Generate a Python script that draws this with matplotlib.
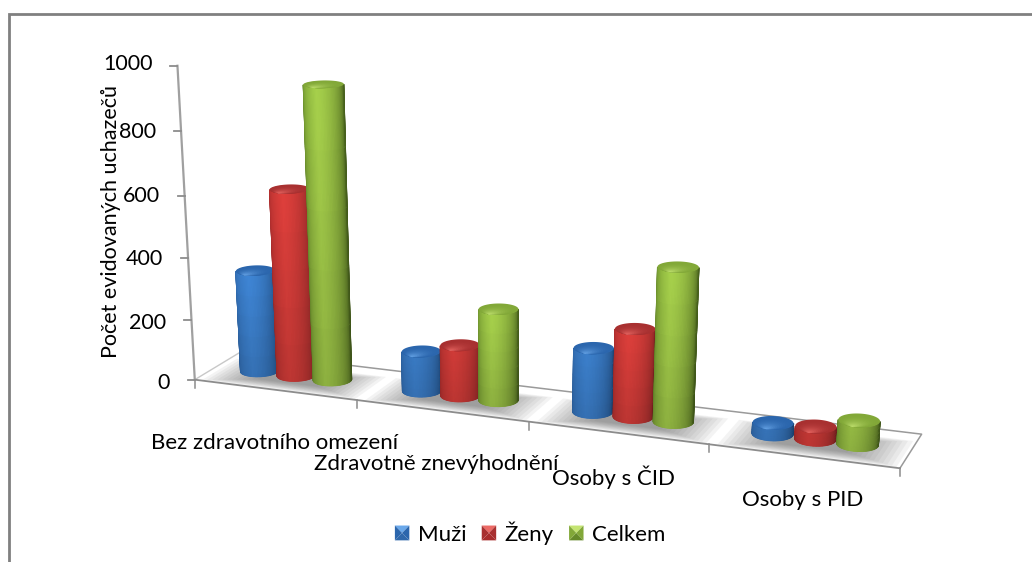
import numpy as np
import matplotlib
matplotlib.use('Agg')
from matplotlib import pyplot as plt
from matplotlib.legend_handler import HandlerBase
from matplotlib.patches import Polygon

plt.rcParams['font.family'] = ['Lato', 'DejaVu Sans']

categories = ['Bez zdravotního omezení', 'Zdravotně znevýhodnění', 'Osoby s ČID', 'Osoby s PID']
muzi = [335, 130, 205, 35]
zeny = [610, 165, 280, 40]
celkem = [945, 295, 485, 75]
series_labels = ['Muži', 'Ženy', 'Celkem']
y_ticks = [0, 200, 400, 600, 800, 1000]
tick_nudge = [3, 3, 0, 0, 0, -2]
y_title = 'Počet evidovaných uchazečů'

# left, peak, right, top, rim
palette = [
    ('#2f68ab', '#3f86d6', '#1f4a7c', '#2b66ad', '#6aa8ea'),
    ('#a82c2c', '#e0403c', '#7c2222', '#a83030', '#ec6a66'),
    ('#668a2a', '#a8d24c', '#465f1c', '#82a838', '#c4e472'),
]

# calibration of the 3d view: (category, depth, value) -> pixel
view_from = [(0, 0, 0), (1, 0, 0), (2, 0, 0), (3, 0, 0), (4, 0, 0), (0, 1, 0), (4, 1, 0),
             (0, 0, 400), (0, 0, 1000), (4, 0, 1000)]
view_to = [(197, 380), (356, 400), (525, 423), (707, 444), (904, 467), (240, 355), (922, 431),
           (190, 258), (177, 62), (925, 127)]


def fit_view(src, dst):
    rows = []
    for (u, d, v), (x, y) in zip(src, dst):
        v = v / 1000
        x = x / 1000
        y = y / 1000
        rows.append([u, d, v, 1, 0, 0, 0, 0, -x * u, -x * d, -x * v, -x])
        rows.append([0, 0, 0, 0, u, d, v, 1, -y * u, -y * d, -y * v, -y])
    return np.linalg.svd(np.array(rows))[2][-1].reshape(3, 4)


P = fit_view(view_from, view_to)


def project(u, d, v):
    u, d, v = np.broadcast_arrays(u, d, np.asarray(v, dtype=float))
    w = P[2, 0] * u + P[2, 1] * d + P[2, 2] * v / 1000 + P[2, 3]
    x = (P[0, 0] * u + P[0, 1] * d + P[0, 2] * v / 1000 + P[0, 3]) / w * 1000
    y = (P[1, 0] * u + P[1, 1] * d + P[1, 2] * v / 1000 + P[1, 3]) / w * 1000
    return x, y


def rgb(c):
    return np.array(matplotlib.colors.to_rgb(c))


def body_color(s, left, peak, right):
    if s < 0.38:
        return left + (peak - left) * (s / 0.38) ** 0.7
    return peak + (right - peak) * ((s - 0.38) / 0.62) ** 1.6


def cylinder(ax, u0, d0, val, cols, z):
    r_u, r_d = 0.107, 0.2
    left, peak, right, top, rim = [rgb(c) for c in cols]
    t = np.linspace(0, 2 * np.pi, 90, endpoint=False)
    bx, by = project(u0 + r_u * np.cos(t), d0 + r_d * np.sin(t), 0)
    i_l, i_r = np.argmin(bx), np.argmax(bx)
    n = (i_r - i_l) % len(t)
    ts = t[(i_l + np.arange(n + 1)) % len(t)]
    levels = np.linspace(0, val, 6)
    uu = np.tile(u0 + r_u * np.cos(ts), (len(levels), 1))
    dd = np.tile(d0 + r_d * np.sin(ts), (len(levels), 1))
    vv = np.tile(levels[:, None], (1, len(ts)))
    X, Y = project(uu, dd, vv)
    C = np.zeros(X.shape + (3,))
    for a, lev in enumerate(levels):
        # sides get a bit darker towards the floor
        shade = 0.84 + 0.16 * min(1, lev / max(val, 300))
        for j in range(len(ts)):
            C[a, j] = np.clip(body_color(j / n, left, peak, right) * shade, 0, 1)
    ax.pcolormesh(X, Y, C, shading='gouraud', zorder=z)
    # lid, lighter towards the front rim
    for k in np.linspace(1, 0.05, 14):
        frac = (1 - k) ** 2.2
        c = top + (rim - top) * frac
        cu = u0 - 0.012 * (1 - k)
        cd = d0 - r_d * (1 - k)
        x, y = project(cu + r_u * k * np.cos(t), cd + r_d * k * np.sin(t), val)
        ax.add_patch(Polygon(np.column_stack([x, y]), closed=True, fc=c, ec='none', zorder=z + 0.1))


class BevelHandler(HandlerBase):
    def create_artists(self, legend, orig_handle, xdescent, ydescent, width, height, fontsize, trans):
        left, peak, right, top, rim = orig_handle
        x0, y0 = -xdescent, -ydescent
        x1, y1 = x0 + width, y0 + height
        cx, cy = (x0 + x1) / 2, (y0 + y1) / 2
        tris = [([(x0, y0), (x1, y0), (cx, cy)], left),
                ([(x0, y1), (x1, y1), (cx, cy)], rim),
                ([(x0, y0), (x0, y1), (cx, cy)], top),
                ([(x1, y0), (x1, y1), (cx, cy)], top)]
        return [Polygon(p, closed=True, fc=c, ec='none', transform=trans) for p, c in tris]


fig = plt.figure(figsize=(10.32, 5.62), dpi=100, facecolor='white')
ax = fig.add_axes([0, 0, 1, 1])

# outer frame of the picture
ax.plot([8.5, 8.5, 1032], [562, 13.5, 13.5], color='#808080', lw=2, solid_joinstyle='miter', zorder=1)

# floor
fx, fy = project([0, 4, 4, 0], [0, 0, 1, 1], 0)
floor = Polygon(np.column_stack([fx, fy]), closed=True, fc='white', ec='none', zorder=2)
ax.add_patch(floor)

# blurred shadows under each group
for i in range(len(categories)):
    for k in np.linspace(1, 0.4, 12):
        uu = i + 0.51 + 0.47 * k * np.array([-1, 1, 1, -1])
        dd = 0.40 + 0.38 * k * np.array([-1, -1, 1, 1])
        x, y = project(uu, dd, 0)
        sh = Polygon(np.column_stack([x, y]), closed=True, fc='#606060', ec='none',
                     alpha=0.07, joinstyle='round', zorder=2.5)
        ax.add_patch(sh)
        sh.set_clip_path(floor)

# floor edges and axis
edge = '#9a9a9a'
x, y = project([0, 4], [0, 0], 0)
ax.plot(x, y, color='#8c8c8c', lw=1.3, zorder=3)
x, y = project([0, 4, 4, 0, 0], [0, 0, 1, 1, 0], 0)
ax.plot(x[1:4], y[1:4], color=edge, lw=1.1, zorder=2.2)
ax.plot(x[3:], y[3:], color='#c8c8c8', lw=1.0, zorder=2.2)
x, y = project([0, 0], [0, 0], [0, 1000])
ax.plot(x, y, color='#a0a0a0', lw=1.6, zorder=3)

for v, nudge in zip(y_ticks, tick_nudge):
    x, y = project(0, 0, v)
    ax.plot([x - 7, x], [y, y], color='#8c8c8c', lw=1.3, zorder=3)
    ax.text(x - 25, y + 0.5 + nudge, str(v), ha='right', va='center', fontsize=15.5, color='black', zorder=6)

for i in range(len(categories) + 1):
    x, y = project(i, 0, 0)
    ax.plot([x, x], [y, y + 8], color='#8c8c8c', lw=1.1, zorder=3)

# bars
offsets = [-0.23, 0, 0.225]
for i in range(len(categories)):
    for j, vals in enumerate([muzi, zeny, celkem]):
        cylinder(ax, i + 0.495 + offsets[j], 0.5, vals[i], palette[j], 4 + i + 0.2 * j)

# labels
label_pos = [(275, 443), (436, 464), (613, 477), (803, 500)]
for name, (x, y) in zip(categories, label_pos):
    ax.text(x, y, name, ha='center', va='center', fontsize=16, color='black', zorder=9)
ax.text(111, 221, y_title, rotation=90, ha='center', va='center', fontsize=15.5, color='black', zorder=9)

leg = ax.legend(handles=palette, labels=series_labels, handler_map={tuple: BevelHandler()},
                loc='center', bbox_to_anchor=(530, 533), bbox_transform=ax.transData, ncol=3,
                frameon=False, fontsize=16, handlelength=0.65, handleheight=0.65,
                handletextpad=0.37, columnspacing=0.7)

ax.set_xlim(0, 1032)
ax.set_ylim(562, 0)
ax.axis('off')

fig.savefig('out.png', dpi=100)
